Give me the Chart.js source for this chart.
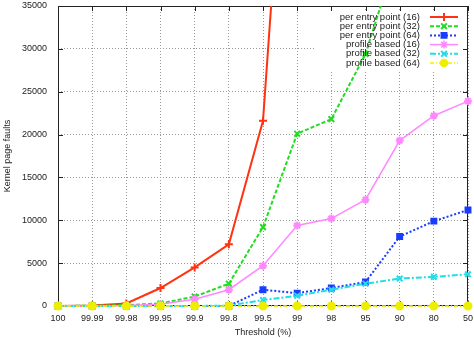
<!DOCTYPE html>
<html>
<head>
<meta charset="utf-8">
<script src="https://cdn.jsdelivr.net/npm/chart.js@4/dist/chart.umd.min.js"></script>
<style>
html, body { margin: 0; padding: 0; background: #fff; }
#wrap { width: 474px; height: 338px; }
</style>
</head>
<body>
<div id="wrap"><canvas id="faultChart"></canvas></div>
<script>
// x categories (threshold %)
var thresholds = ['100', '99.99', '99.98', '99.95', '99.9', '99.8', '99.5', '99', '98', '95', '90', '80', '50'];
var yTicks = [0, 5000, 10000, 15000, 20000, 25000, 30000, 35000];

// kernel page faults
var perEntry16 = [0, 50, 300, 2100, 4500, 7200, 21600, 78000, null, null, null, null, null];
var perEntry32 = [0, 30, 100, 300, 1100, 2600, 9200, 20100, 21800, 29400, 42000, null, null];
var perEntry64 = [0, 0, 0, 0, 0, 0, 1900, 1500, 2100, 2800, 8100, 9900, 11200];
var profile16 = [0, 0, 50, 200, 800, 1900, 4700, 9400, 10200, 12400, 19300, 22200, 23900];
var profile32 = [0, 0, 0, 0, 0, 50, 700, 1200, 1900, 2600, 3200, 3400, 3700];
var profile64 = [0, 0, 0, 0, 0, 0, 0, 0, 0, 0, 0, 0, 0];

var seriesNames = ['per entry point (16)', 'per entry point (32)', 'per entry point (64)',
    'profile based (16)', 'profile based (32)', 'profile based (64)'];
var seriesData = [perEntry16, perEntry32, perEntry64, profile16, profile32, profile64];

var looks = [
    { color: '#ff3311', dash: [], width: 2, point: 'cross', r: 4 },
    { color: '#22dd22', dash: [4, 2], width: 2, point: 'crossRot', r: 4 },
    { color: '#1a3cff', dash: [2, 2], width: 2, point: 'rect', r: 3.5 },
    { color: '#ff88ff', dash: [], width: 1.5, point: 'star', r: 4 },
    { color: '#22dde8', dash: [6, 2, 2, 2], width: 2, point: 'crossRot', r: 4 },
    { color: '#eeee00', dash: [4, 2, 1, 2], width: 1.5, point: 'circle', r: 3.5 }
];

var FONT = "'Liberation Sans', Arial, sans-serif";

var datasets = seriesData.map(function (d, i) {
    var lk = looks[i];
    return {
        label: seriesNames[i],
        data: d,
        borderColor: lk.color,
        backgroundColor: lk.color,
        borderWidth: lk.width,
        borderDash: lk.dash,
        pointStyle: lk.point,
        pointRadius: lk.r,
        pointBorderWidth: 2,
        pointBorderColor: lk.color,
        pointBackgroundColor: lk.color,
        tension: 0,
        spanGaps: false,
        order: 5 - i,
        clip: { left: 8, top: 0, right: 8, bottom: 8 }
    };
});

function drawMark(ctx, style, r, x, y) {
    if (Chart.helpers && Chart.helpers.drawPoint) {
        Chart.helpers.drawPoint(ctx, { pointStyle: style, rotation: 0, radius: r, borderWidth: 2 }, x, y);
    } else {
        ctx.beginPath();
        ctx.arc(x, y, r, 0, Math.PI * 2);
        ctx.fill();
    }
}

// gnuplot style frame, inward ticks and key
var gnuFrame = {
    id: 'gnuFrame',
    beforeDatasetsDraw: function (chart) {
        var ctx = chart.ctx, a = chart.chartArea;
        var xs = chart.scales.x, ys = chart.scales.y;
        ctx.save();
        // key background
        ctx.fillStyle = '#fff';
        ctx.fillRect(315, 10, 153, 60);
        // border
        ctx.strokeStyle = '#222';
        ctx.lineWidth = 1;
        ctx.strokeRect(a.left + 0.5, a.top + 0.5, a.right - a.left - 1, a.bottom - a.top - 1);
        ctx.beginPath();
        thresholds.forEach(function (t, i) {
            var px = Math.round(xs.getPixelForValue(i)) + 0.5;
            ctx.moveTo(px, a.bottom); ctx.lineTo(px, a.bottom - 5);
            ctx.moveTo(px, a.top); ctx.lineTo(px, a.top + 5);
        });
        yTicks.forEach(function (v) {
            var py = Math.round(ys.getPixelForValue(v)) + 0.5;
            ctx.moveTo(a.left, py); ctx.lineTo(a.left + 5, py);
            ctx.moveTo(a.right, py); ctx.lineTo(a.right - 5, py);
        });
        ctx.stroke();
        ctx.restore();
    },
    afterDraw: function (chart) {
        var ctx = chart.ctx;
        ctx.save();
        ctx.font = '9.5px ' + FONT;
        ctx.textAlign = 'right';
        ctx.textBaseline = 'middle';
        seriesNames.forEach(function (name, i) {
            var y = 17 + i * 9.2;
            var lk = looks[i];
            ctx.fillStyle = '#222';
            ctx.fillText(name, 420, y);
            ctx.strokeStyle = lk.color;
            ctx.lineWidth = lk.width;
            ctx.setLineDash(lk.dash);
            ctx.beginPath();
            ctx.moveTo(430, y);
            ctx.lineTo(458, y);
            ctx.stroke();
            ctx.setLineDash([]);
            ctx.fillStyle = lk.color;
            drawMark(ctx, lk.point, lk.r, 444, y);
        });
        ctx.restore();
    }
};

var faultChart = new Chart(document.getElementById('faultChart').getContext('2d'), {
    type: 'line',
    data: { labels: thresholds, datasets: datasets },
    plugins: [gnuFrame],
    options: {
        responsive: true,
        maintainAspectRatio: false,
        animation: false,
        layout: { padding: { left: 0, right: 4, top: 5, bottom: 0 } },
        plugins: {
            legend: { display: false },
            tooltip: { enabled: false }
        },
        scales: {
            x: {
                type: 'category',
                offset: false,
                afterFit: function (s) { s.height = 32; s.paddingLeft = 0; s.paddingRight = 0; },
                grid: { color: '#999', lineWidth: 1, drawTicks: false },
                border: { display: false, dash: [1, 2] },
                ticks: { color: '#222', font: { family: FONT, size: 9 }, padding: 7, maxRotation: 0, autoSkip: false },
                title: { display: true, text: 'Threshold (%)', color: '#222', font: { family: FONT, size: 9 }, padding: { top: 0, bottom: 0 } }
            },
            y: {
                min: 0,
                max: 35000,
                afterFit: function (s) { s.width = 58; s.paddingTop = 0; s.paddingBottom = 0; },
                grid: { color: '#999', lineWidth: 1, drawTicks: false },
                border: { display: false, dash: [1, 2] },
                ticks: {
                    stepSize: 5000,
                    color: '#222',
                    font: { family: FONT, size: 9 },
                    padding: 11,
                    callback: function (v) { return String(v); }
                },
                title: { display: true, text: 'Kernel page faults', color: '#222', font: { family: FONT, size: 9 }, padding: { top: 2, bottom: 0 } }
            }
        }
    }
});
</script>
</body>
</html>
